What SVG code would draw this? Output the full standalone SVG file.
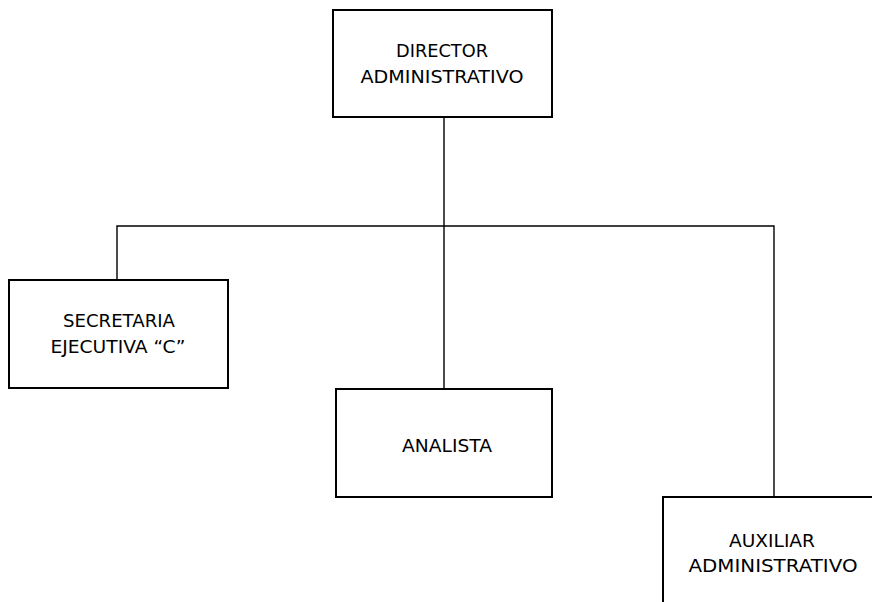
<svg xmlns="http://www.w3.org/2000/svg" width="872" height="602" viewBox="0 0 872 602">
<style>
.box{fill:#fff;stroke:#000;stroke-width:2}
.ln{fill:none;stroke:#000;stroke-width:1.4}
text{font-family:"DejaVu Sans","Liberation Sans",sans-serif;font-size:17px;fill:#000;text-anchor:middle}
</style>
<rect width="872" height="602" fill="#fff"/>
<g id="connectors">
<path class="ln" d="M444 117V389M117 280V226H774V497"/>
</g>
<g id="director">
<rect class="box" x="333" y="10" width="219" height="107"/>
<text x="442" y="57" textLength="92" lengthAdjust="spacingAndGlyphs">DIRECTOR</text>
<text x="442" y="83" textLength="163" lengthAdjust="spacingAndGlyphs">ADMINISTRATIVO</text>
</g>
<g id="secretaria">
<rect class="box" x="9" y="280" width="219" height="108"/>
<text x="119" y="327" textLength="112" lengthAdjust="spacingAndGlyphs">SECRETARIA</text>
<text x="118" y="353" textLength="135" lengthAdjust="spacingAndGlyphs">EJECUTIVA “C”</text>
</g>
<g id="analista">
<rect class="box" x="336" y="389" width="216" height="108"/>
<text x="447" y="452" textLength="90" lengthAdjust="spacingAndGlyphs">ANALISTA</text>
</g>
<g id="auxiliar">
<rect class="box" x="663" y="497" width="222" height="115"/>
<text x="772" y="547" textLength="86" lengthAdjust="spacingAndGlyphs">AUXILIAR</text>
<text x="773" y="572" textLength="169" lengthAdjust="spacingAndGlyphs">ADMINISTRATIVO</text>
</g>
</svg>
